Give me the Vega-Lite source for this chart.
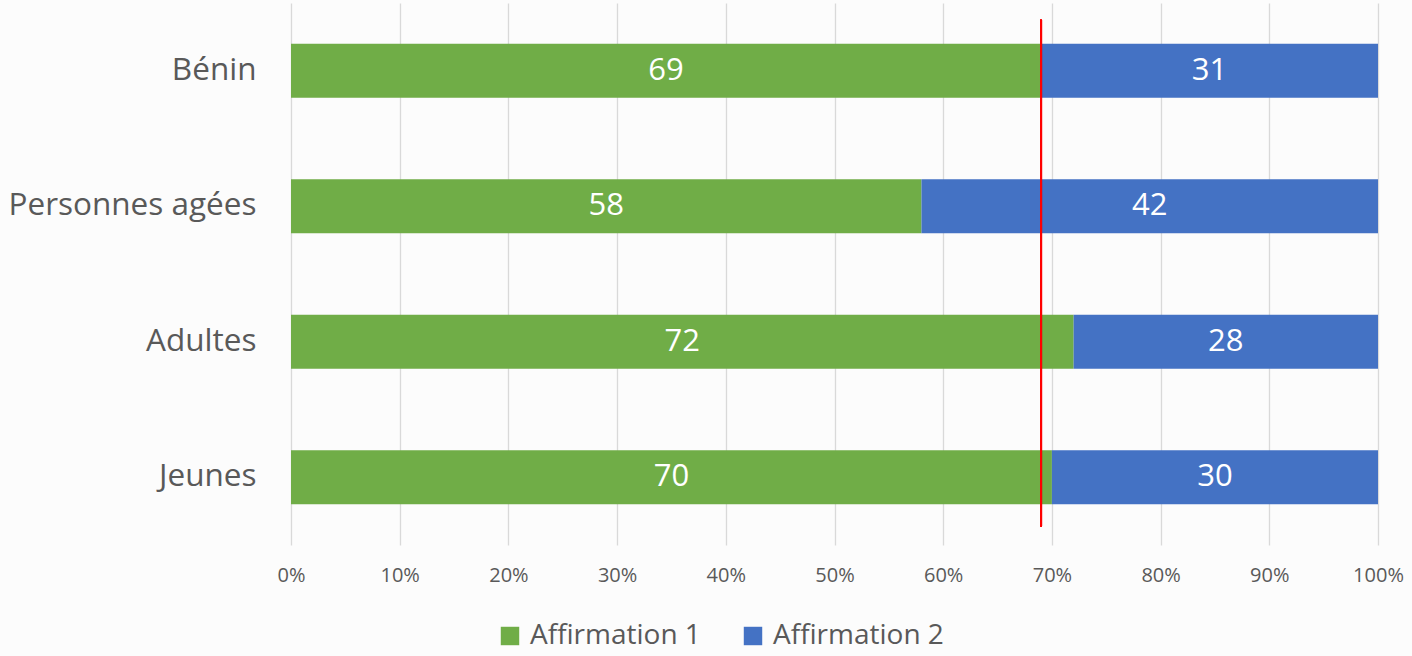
{
  "$schema": "https://vega.github.io/schema/vega-lite/v6.json",
  "width": 1087,
  "height": 542,
  "autosize": {"type": "none"},
  "padding": {"left": 291, "top": 3, "right": 34, "bottom": 111},
  "background": "#fcfcfc",
  "config": {"view": {"stroke": null}, "font": "Open Sans"},
  "data": {
    "values": [
      {"groupe": "Bénin", "serie": "Affirmation 1", "valeur": 69},
      {"groupe": "Bénin", "serie": "Affirmation 2", "valeur": 31},
      {"groupe": "Personnes agées", "serie": "Affirmation 1", "valeur": 58},
      {"groupe": "Personnes agées", "serie": "Affirmation 2", "valeur": 42},
      {"groupe": "Adultes", "serie": "Affirmation 1", "valeur": 72},
      {"groupe": "Adultes", "serie": "Affirmation 2", "valeur": 28},
      {"groupe": "Jeunes", "serie": "Affirmation 1", "valeur": 70},
      {"groupe": "Jeunes", "serie": "Affirmation 2", "valeur": 30}
    ]
  },
  "transform": [
    {"stack": "valeur", "groupby": ["groupe"], "sort": [{"field": "serie", "order": "ascending"}], "offset": "normalize", "as": ["x0", "x1"]},
    {"calculate": "(datum.x0 + datum.x1) / 2", "as": "xmid"}
  ],
  "layer": [
    {
      "mark": {"type": "bar"},
      "encoding": {
        "y": {
          "field": "groupe", "type": "nominal",
          "sort": ["Bénin", "Personnes agées", "Adultes", "Jeunes"],
          "scale": {"paddingInner": 0.6, "paddingOuter": 0.3},
          "axis": {"title": null, "ticks": false, "domain": false, "labelFontSize": 31.5, "labelColor": "#595959", "labelPadding": 35, "labelFont": "Open Sans", "labelLimit": 400}
        },
        "x": {
          "field": "x0", "type": "quantitative",
          "scale": {"domain": [0, 1], "nice": false},
          "axis": {"title": null, "format": ".0%", "values": [0, 0.1, 0.2, 0.3, 0.4, 0.5, 0.6, 0.7, 0.8, 0.9, 1], "ticks": false, "domain": false, "labelFlush": false, "gridColor": "#d9d9d9", "gridWidth": 1.3, "labelFontSize": 20, "labelColor": "#595959", "labelPadding": 20}
        },
        "x2": {"field": "x1"},
        "color": {
          "field": "serie", "type": "nominal",
          "scale": {"domain": ["Affirmation 1", "Affirmation 2"], "range": ["#70ad47", "#4472c4"]},
          "legend": {"title": null, "orient": "none", "direction": "horizontal", "legendX": 205, "legendY": 619, "symbolType": "square", "symbolSize": 340, "symbolStrokeWidth": 0, "labelFontSize": 28, "labelLimit": 400, "labelColor": "#595959", "labelOffset": 6, "columnPadding": 38}
        }
      }
    },
    {
      "mark": {"type": "text", "color": "white", "fontSize": 31, "baseline": "middle", "align": "center"},
      "encoding": {
        "y": {"field": "groupe", "type": "nominal", "sort": ["Bénin", "Personnes agées", "Adultes", "Jeunes"]},
        "x": {"field": "xmid", "type": "quantitative"},
        "text": {"field": "valeur", "type": "quantitative"}
      }
    },
    {
      "mark": {"type": "rule", "color": "#ff0000", "strokeWidth": 2},
      "encoding": {
        "x": {"datum": 0.69},
        "y": {"datum": "Bénin", "type": "nominal", "bandPosition": -0.44},
        "y2": {"datum": "Jeunes", "bandPosition": 1.41}
      }
    }
  ]
}
